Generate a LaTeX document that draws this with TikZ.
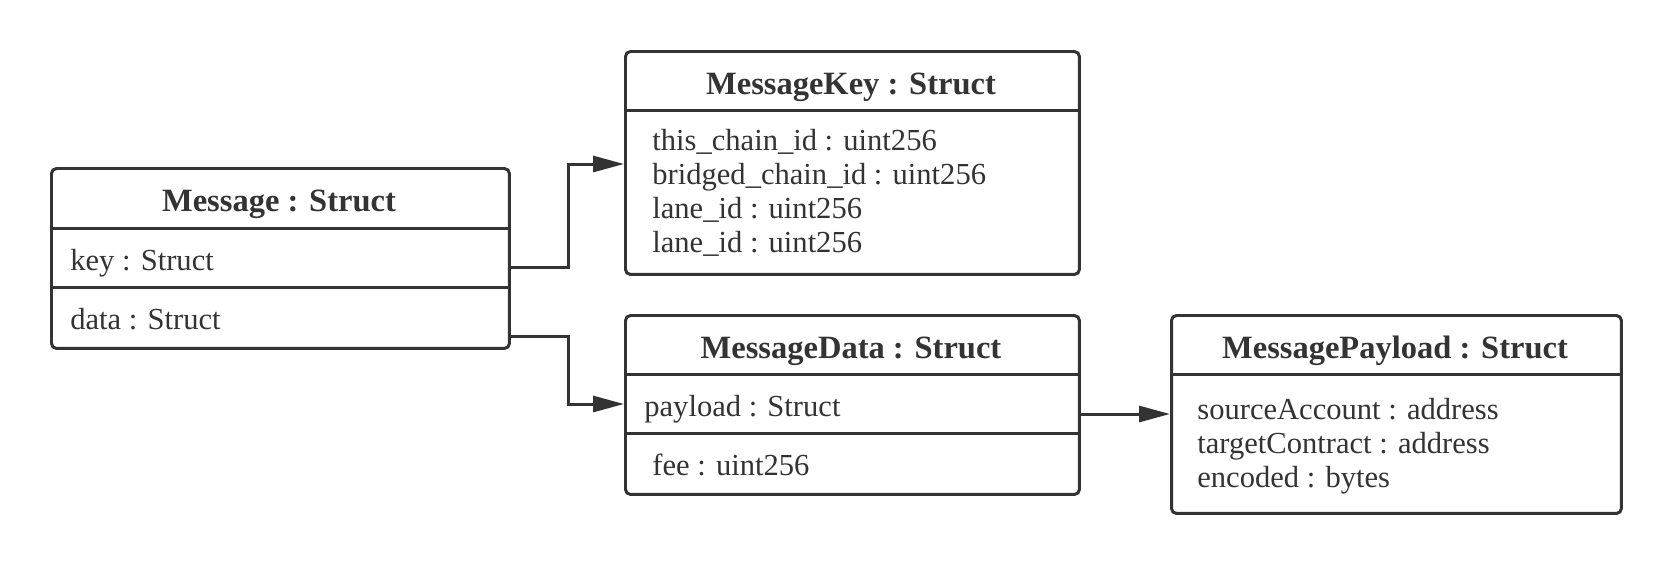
\documentclass[tikz,border=0pt]{standalone}
\usepackage{fontspec}
\setmainfont{Liberation Serif}
\usetikzlibrary{arrows.meta,positioning}
\definecolor{ink}{HTML}{333333}

\begin{document}
\begin{tikzpicture}
    [x=0.02cm,y=-0.02cm,
    classbox/.style={rectangle,draw=ink,line width=1.7pt,rounded corners=0.1cm,
    anchor=north west,inner sep=0pt},
    title/.style={text=ink,font=\bfseries\fontsize{18.5}{22}\selectfont,inner sep=0pt,
    text height=0.72em,text depth=0.22em},
    field/.style={text=ink,font=\fontsize{17.4}{19.3}\selectfont,anchor=west,inner sep=0pt,
    text height=0.72em,text depth=0.22em},
    divider/.style={draw=ink,line width=1.7pt},
    link/.style={draw=ink,line width=1.7pt,-{Triangle[length=0.62cm,width=0.32cm]}}]
    \useasboundingbox (0,0) rectangle (1670,562);
    % Message
    \node[classbox,minimum width=9.16cm,minimum height=3.6cm] (message) at (50,167) {};
    \node[title] (message title) at (279,207) {Message : Struct};
    \draw[divider] (message.west |- 0,228) -- (message.east |- 0,228);
    \draw[divider] (message.west |- 0,287) -- (message.east |- 0,287);
    \node[field] (message key) at (70,266) {key : Struct};
    \node[field] (message data) at (70,325) {data : Struct};
    % MessageKey
    \node[classbox,minimum width=9.08cm,minimum height=4.46cm] (msgkey) at (624,50) {};
    \node[title] (msgkey title) at (851,90) {MessageKey : Struct};
    \draw[divider] (msgkey.west |- 0,110) -- (msgkey.east |- 0,110);
    \node[field] (this chain) at (652,146) {this\_chain\_id : uint256};
    \node[field] (bridged chain) at (652,180) {bridged\_chain\_id : uint256};
    \node[field] (lane a) at (652,214) {lane\_id : uint256};
    \node[field] (lane b) at (652,248) {lane\_id : uint256};
    % MessageData
    \node[classbox,minimum width=9.08cm,minimum height=3.58cm] (msgdata) at (624,314) {};
    \node[title] (msgdata title) at (851,354) {MessageData : Struct};
    \draw[divider] (msgdata.west |- 0,374) -- (msgdata.east |- 0,374);
    \draw[divider] (msgdata.west |- 0,433) -- (msgdata.east |- 0,433);
    \node[field] (payload) at (644,412) {payload : Struct};
    \node[field] (fee) at (652,471) {fee : uint256};
    % MessagePayload
    \node[classbox,minimum width=9cm,minimum height=3.96cm] (msgpayload) at (1170,314) {};
    \node[title] (msgpayload title) at (1395,354) {MessagePayload : Struct};
    \draw[divider] (msgpayload.west |- 0,374) -- (msgpayload.east |- 0,374);
    \node[field] (source) at (1197,415) {sourceAccount : address};
    \node[field] (target) at (1197,449) {targetContract : address};
    \node[field] (encoded) at (1197,483) {encoded : bytes};
    % links
    \draw[link] (message.east |- 0,267) -- ++(58,0) |- (msgkey.west |- 0,164);
    \draw[link] (message.east |- 0,336) -- ++(58,0) |- (msgdata.west |- 0,404);
    \draw[link] (msgdata.east |- 0,414) -- (msgpayload.west |- 0,414);
\end{tikzpicture}
\end{document}
